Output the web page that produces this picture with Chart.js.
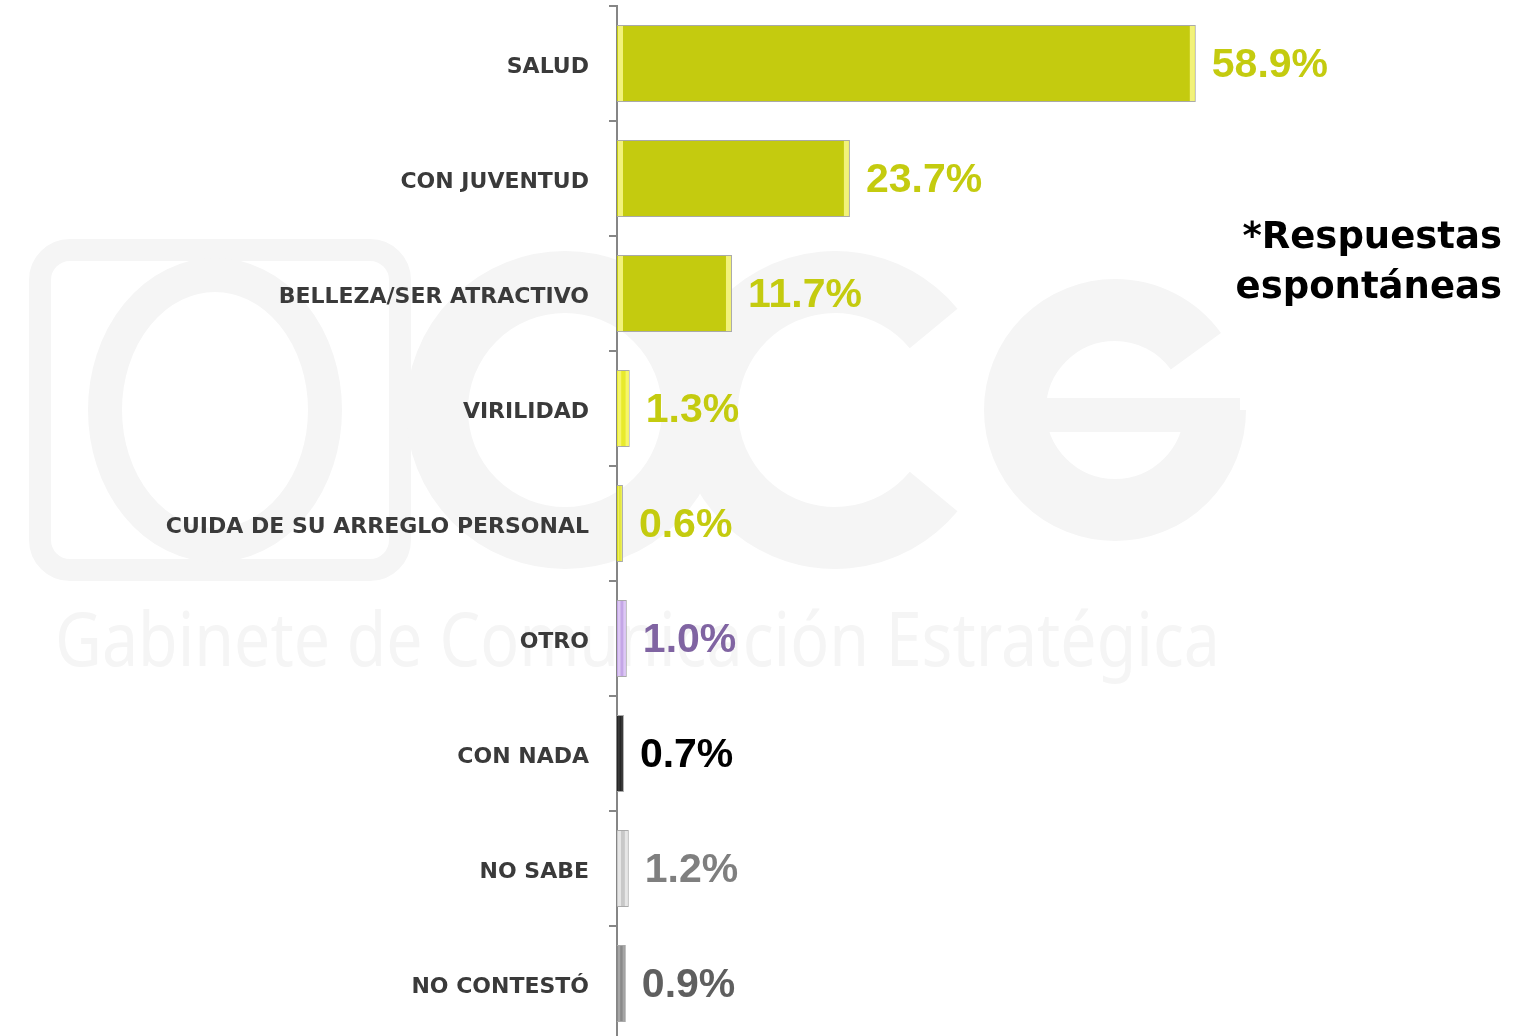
<!DOCTYPE html>
<html>
<head>
<meta charset="utf-8">
<script src="https://cdn.jsdelivr.net/npm/chart.js@4"></script>
<style>
    html, body { margin: 0; padding: 0; background: #fff; overflow: hidden; }
    #wrap { position: relative; width: 1526px; height: 1041px; }
    #note {
        position: absolute; right: 24px; top: 211px;
        font-family: "DejaVu Sans", sans-serif; font-weight: bold;
        font-size: 37px; line-height: 50px; text-align: right; color: #000;
    }
</style>
</head>
<body>
<div id="wrap">
    <canvas id="chart" width="1526" height="1041"></canvas>
    <div id="note">*Respuestas<br>espontáneas</div>
</div>
<script>
// ── data ───────────────────────────────────────────────────────────────
const categories = [
    'SALUD',
    'CON JUVENTUD',
    'BELLEZA/SER ATRACTIVO',
    'VIRILIDAD',
    'CUIDA DE SU ARREGLO PERSONAL',
    'OTRO',
    'CON NADA',
    'NO SABE',
    'NO CONTESTÓ'
];
const values = [58.9, 23.7, 11.7, 1.3, 0.6, 1.0, 0.7, 1.2, 0.9];

const barColors   = ['#c4cb0f', '#c4cb0f', '#c4cb0f', '#e8ea2c', '#d8dc1c', '#c4a6e6', '#262626', '#c8c8c8', '#8a8a8a'];
const edgeColors  = ['#f2f27a', '#f2f27a', '#f2f27a', '#f6f66a', '#eef060', '#ddc8f4', '#3a3a3a', '#e6e6e6', '#a6a6a6'];
const labelColors = ['#c4cb0f', '#c4cb0f', '#c4cb0f', '#c4cb0f', '#c4cb0f', '#8064a2', '#000000', '#7f7f7f', '#5f5f5f'];

const AXIS_GRAY = '#868686';

// faint company watermark behind the bars
const watermark = {
    id: 'watermark',
    beforeDraw(chart) {
        const ctx = chart.ctx;
        ctx.save();
        ctx.strokeStyle = '#f5f5f5';
        ctx.fillStyle = '#f5f5f5';

        // logo block
        ctx.lineWidth = 22;
        ctx.beginPath();
        ctx.roundRect(40, 250, 360, 320, 30);
        ctx.stroke();
        ctx.lineWidth = 34;
        ctx.beginPath();
        ctx.ellipse(215, 410, 110, 135, 0, 0, Math.PI * 2);
        ctx.stroke();

        // "gce" letters as thick rings
        ctx.lineWidth = 62;
        ctx.beginPath();
        ctx.arc(565, 410, 128, 0, Math.PI * 2);
        ctx.stroke();
        ctx.beginPath();
        ctx.arc(835, 410, 128, 0.22 * Math.PI, 1.78 * Math.PI);
        ctx.stroke();
        ctx.beginPath();
        ctx.arc(1115, 410, 100, 0, 1.8 * Math.PI, false);
        ctx.stroke();
        ctx.fillRect(990, 398, 250, 34);

        ctx.font = '74px "Noto Sans"';
        ctx.textBaseline = 'alphabetic';
        const t = 'Gabinete de Comunicación Estratégica';
        const tw = ctx.measureText(t).width;
        ctx.translate(55, 666);
        ctx.scale(1165 / tw, 1);
        ctx.fillText(t, 0, 0);
        ctx.restore();
    }
};

// bevel strips on the bar ends and the value labels
const barDecor = {
    id: 'barDecor',
    afterDatasetsDraw(chart) {
        const ctx = chart.ctx;
        const meta = chart.getDatasetMeta(0);
        ctx.save();
        meta.data.forEach((bar, i) => {
            const left = bar.base;
            const right = bar.x;
            const top = bar.y - bar.height / 2;
            const h = bar.height;
            const strip = Math.min(5, (right - left) / 4);

            ctx.fillStyle = edgeColors[i];
            ctx.fillRect(left + 1, top + 1, strip, h - 2);
            ctx.fillRect(right - strip - 1, top + 1, strip, h - 2);

            ctx.fillStyle = labelColors[i];
            ctx.font = 'bold 41px "Liberation Sans"';
            ctx.textAlign = 'left';
            ctx.textBaseline = 'middle';
            ctx.fillText(values[i].toFixed(1) + '%', right + 16, bar.y + 2);
        });
        ctx.restore();
    }
};

new Chart(document.getElementById('chart'), {
    type: 'bar',
    data: {
        labels: categories,
        datasets: [{
            data: values,
            backgroundColor: barColors,
            borderColor: '#a9a9a9',
            borderWidth: 1,
            barPercentage: 0.67,
            categoryPercentage: 1
        }]
    },
    options: {
        indexAxis: 'y',
        responsive: false,
        animation: false,
        layout: { padding: { top: 6, bottom: 0, left: 0, right: 0 } },
        plugins: {
            legend: { display: false },
            tooltip: { enabled: false }
        },
        scales: {
            x: {
                display: false,
                min: 0,
                max: 92.5
            },
            y: {
                afterFit: (scale) => {
                    scale.width = 617;
                    scale.paddingTop = 0;
                    scale.paddingBottom = 0;
                },
                grid: {
                    offset: true,
                    drawOnChartArea: false,
                    drawTicks: true,
                    tickLength: 8,
                    color: AXIS_GRAY,
                    lineWidth: 2
                },
                border: { color: AXIS_GRAY, width: 2 },
                ticks: {
                    padding: 20,
                    labelOffset: 4,
                    color: '#3a3a3a',
                    font: { family: 'DejaVu Sans', weight: 'bold', size: 22 }
                }
            }
        }
    },
    plugins: [watermark, barDecor]
});
</script>
</body>
</html>
